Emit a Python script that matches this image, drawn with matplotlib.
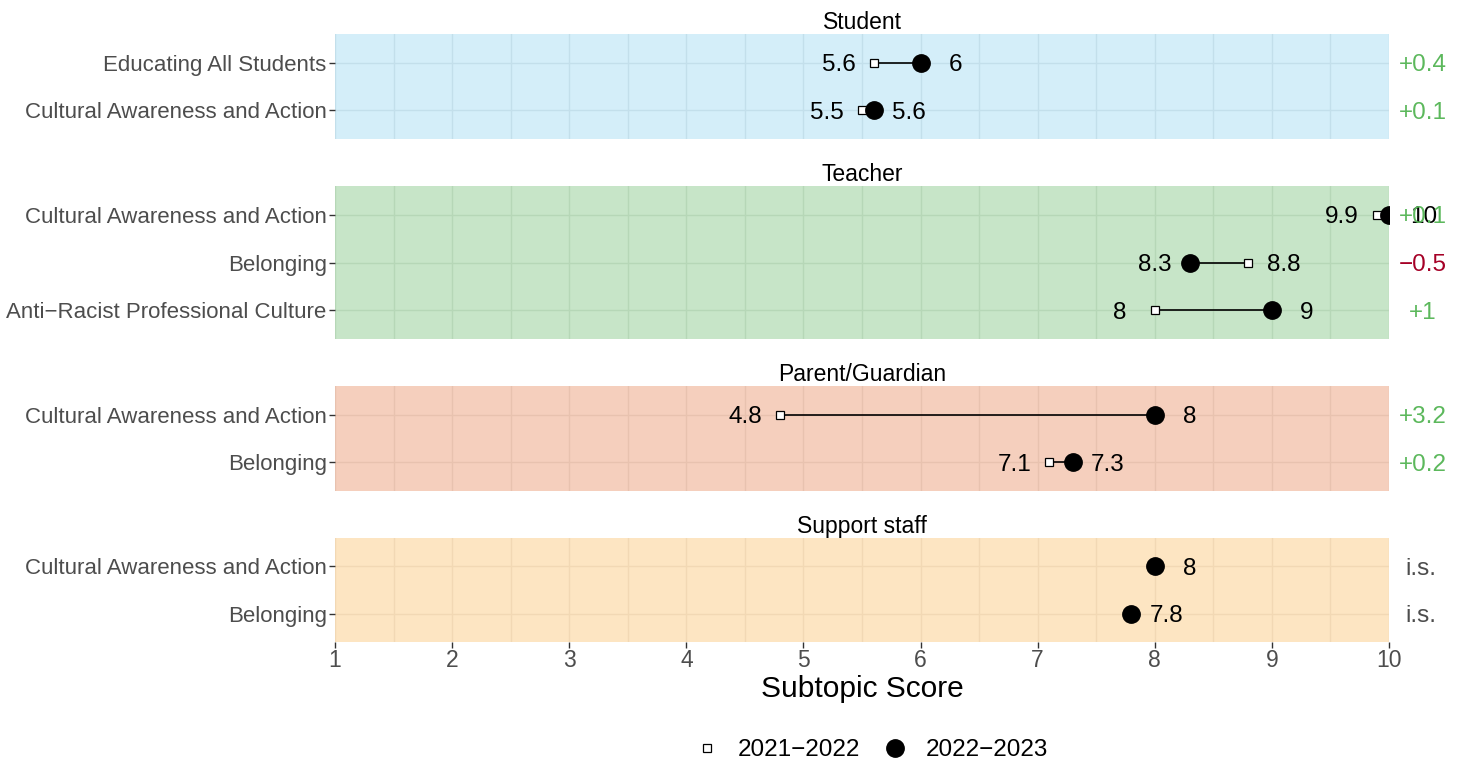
import matplotlib
matplotlib.use('Agg')
import matplotlib.pyplot as plt
from matplotlib.lines import Line2D
import numpy as np

plt.rcParams['font.family'] = ['Liberation Sans', 'DejaVu Sans']

# data
groups = ['Student', 'Teacher', 'Parent/Guardian', 'Support staff']
subtopics = [
    ['Educating All Students', 'Cultural Awareness and Action'],
    ['Cultural Awareness and Action', 'Belonging', 'Anti\u2212Racist Professional Culture'],
    ['Cultural Awareness and Action', 'Belonging'],
    ['Cultural Awareness and Action', 'Belonging'],
]
score_2122 = [[5.6, 5.5], [9.9, 8.8, 8.0], [4.8, 7.1], [np.nan, np.nan]]
score_2223 = [[6.0, 5.6], [10.0, 8.3, 9.0], [8.0, 7.3], [8.0, 7.8]]
bg_colors = ['#D4EEF9', '#C7E5C8', '#F5CFBD', '#FDE5C2']
grid_colors = ['#C3DFEB', '#B6D7B7', '#E8C2AF', '#F2D8B4']

pos_col = '#5CB85C'
neg_col = '#A50026'

W, H = 1466, 763
fig = plt.figure(figsize=(W / 100, H / 100), dpi=100)

panel_px = [(34, 139), (186, 339), (386, 491), (538, 642)]
x0, x1 = 335, 1389
vfs = 17.5  # value label size

def fmt(v):
    s = ('%.1f' % v).rstrip('0').rstrip('.')
    return s

for i, g in enumerate(groups):
    top, bot = panel_px[i]
    ax = fig.add_axes([x0 / W, 1 - bot / H, (x1 - x0) / W, (bot - top) / H])
    n = len(subtopics[i])
    ax.set_facecolor(bg_colors[i])
    for s in ax.spines.values():
        s.set_visible(False)
    ax.set_xlim(1, 10)
    ax.set_ylim(n + 0.6, 0.4)
    ys = np.arange(1, n + 1)
    ax.set_yticks(ys)
    ax.set_yticklabels(subtopics[i], fontsize=16, color='#4D4D4D')
    ax.set_xticks(np.arange(1, 11))
    ax.set_xticks(np.arange(1.5, 10, 1), minor=True)
    ax.grid(True, which='both', color=grid_colors[i], linewidth=1.0)
    ax.set_axisbelow(True)
    ax.tick_params(axis='y', length=4, width=1, color='#333333', pad=2)
    ax.tick_params(axis='x', which='minor', length=0)
    if i < len(groups) - 1:
        ax.tick_params(axis='x', which='major', length=0, labelbottom=False)
    else:
        ax.tick_params(axis='x', which='major', length=4, width=1, color='#333333',
                       labelsize=16.5, labelcolor='#4D4D4D', pad=1)
        ax.set_xlabel('Subtopic Score', fontsize=21.5, labelpad=2)
    ax.set_title(g, fontsize=16.5, pad=3)

    for y, a, b in zip(ys, score_2122[i], score_2223[i]):
        if not np.isnan(a):
            ax.plot([a, b], [y, y], color='black', lw=1.2, zorder=2)
            ax.plot(a, y, 's', ms=6, mfc='white', mec='black', mew=0.9, zorder=3)
        ax.plot(b, y, 'o', ms=12.5, color='black', zorder=4)
        if np.isnan(a):
            ax.text(b + 0.3, y, fmt(b), ha='center', va='center_baseline', fontsize=vfs)
            ax.text(10.27, y, 'i.s.', ha='center', va='center_baseline', fontsize=vfs,
                    color='#4D4D4D', clip_on=False)
            continue
        lo, hi = (a, b) if a <= b else (b, a)
        ax.text(lo - 0.3, y, fmt(lo), ha='center', va='center_baseline', fontsize=vfs)
        ax.text(hi + 0.3, y, fmt(hi), ha='center', va='center_baseline', fontsize=vfs,
                clip_on=False)
        d = round(b - a, 1)
        if d >= 0:
            lab, col = '+' + fmt(d), pos_col
        else:
            lab, col = '\u2212' + fmt(-d), neg_col
        ax.text(10.29, y, lab, ha='center', va='center_baseline', fontsize=vfs,
                color=col, clip_on=False)

handles = [
    Line2D([], [], ls='none', marker='s', ms=6, mfc='white', mec='black', mew=0.9),
    Line2D([], [], ls='none', marker='o', ms=12.5, color='black'),
]
fig.legend(handles, ['2021\u22122022', '2022\u22122023'], loc='center',
           bbox_to_anchor=(0.5925, 1 - 750 / H), ncol=2, frameon=False,
           fontsize=17.5, handletextpad=0.5, columnspacing=0.7, handlelength=1.5)

fig.savefig('out.png', dpi=100)
